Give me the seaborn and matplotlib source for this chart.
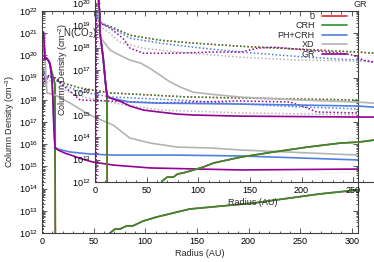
import numpy as np
import seaborn as sns
import matplotlib
matplotlib.use('Agg')
import matplotlib.pyplot as plt
from matplotlib.lines import Line2D
from matplotlib.ticker import LogLocator, NullFormatter, MultipleLocator, LogFormatterMathtext

# ---------------- data (log10 of column density) ----------------
# main panel, solid lines
m_gr_r = [0.3, 1.5, 2.9, 3.9, 5.8, 7.7, 9.7, 10.6, 11.6, 12.6, 15.5, 22, 28, 39, 49, 69, 105, 153, 192, 250, 306]
m_gr_n = [21.05, 21.05, 19.8, 19.9, 19.8, 19.66, 18.9, 18.0, 16.64, 15.83, 15.74, 15.6, 15.51, 15.33, 15.2, 15.06, 14.93, 14.88, 14.84, 14.86, 14.88]
m_crh_r = [0.3, 1.5, 2.9, 3.9, 5.8, 7.7, 9.7, 11.5, 12.5, 13.0, 64, 65.8, 70.7, 75.5, 82, 88, 98, 111, 127, 143, 205, 269, 306]
m_crh_n = [21.0, 21.0, 19.8, 19.9, 19.8, 19.6, 19.2, 18.9, 18.7, 10.0, 11.5, 12.0, 12.18, 12.18, 12.32, 12.32, 12.54, 12.72, 12.90, 13.08, 13.35, 13.76, 13.94]
m_ph_r = [0.3, 1.5, 2.9, 3.9, 5.8, 7.7, 9.7, 10.6, 11.6, 12.6, 15.5, 27, 46, 69, 129, 192, 250, 306]
m_ph_n = [21.0, 21.0, 19.8, 19.9, 19.8, 19.6, 18.9, 18.0, 16.7, 15.87, 15.78, 15.65, 15.56, 15.51, 15.51, 15.47, 15.38, 15.29]
m_xd_r = [0.3, 1.5, 2.9, 4.8, 12.6, 27, 46, 69, 85, 105, 131, 163, 192, 306]
m_xd_n = [21.0, 21.0, 19.8, 18.31, 18.22, 17.86, 17.32, 16.86, 16.28, 16.05, 15.87, 15.83, 15.74, 15.51]
# main panel, dotted lines
m_crh_d_r = [1.0, 1.2, 2, 3, 6.8, 12.6, 20, 37, 66, 140, 192, 306]
m_crh_d_n = [10.0, 19.4, 19.3, 18.9, 19.07, 18.98, 18.76, 18.53, 18.31, 18.13, 18.08, 17.99]
m_ph_d_r = [1.0, 1.2, 2, 3, 6.8, 20, 37, 66, 140, 192, 250, 306]
m_ph_d_n = [10.0, 19.4, 19.3, 18.9, 19.07, 18.67, 18.37, 18.13, 17.97, 17.81, 17.68, 17.59]
m_gr_d_r = [1.0, 1.2, 2, 3, 6.8, 12, 24, 37, 114, 192, 240, 257, 266, 306]
m_gr_d_n = [10.0, 19.2, 19.1, 18.8, 19.12, 19.0, 18.5, 17.99, 17.86, 17.95, 17.9, 17.63, 17.45, 17.41]
m_xd_d_r = [1.0, 1.2, 2, 3, 6.8, 17, 40, 75, 114, 192, 306]
m_xd_d_n = [10.0, 18.9, 18.8, 18.6, 18.89, 18.53, 18.13, 17.81, 17.54, 17.41, 17.32]

# inset, solid lines
i_gr_r = [0.3, 1.5, 3, 4.5, 4.9, 8, 10, 11.7, 14.6, 24, 34, 47, 63, 80, 95, 141, 255, 306]
i_gr_n = [21.0, 21.0, 20.5, 19.5, 18.64, 17.5, 16.5, 15.8, 15.75, 15.61, 15.39, 15.21, 15.12, 15.03, 14.99, 14.94, 14.90, 14.90]
i_crh_r = [0.3, 1.5, 3, 4.5, 4.9, 8, 10, 11.5, 12.0, 63, 65, 70, 76, 80, 85, 92, 105, 115, 124, 141, 173, 206, 238, 255, 270, 306]
i_crh_n = [21.0, 21.0, 20.5, 19.5, 18.64, 17.5, 16.5, 15.9, 10.0, 11.5, 12.04, 12.22, 12.22, 12.36, 12.40, 12.49, 12.67, 12.85, 12.94, 13.11, 13.34, 13.56, 13.74, 13.78, 13.87, 14.0]
i_ph_r = [0.3, 1.5, 3, 4.5, 4.9, 8, 10, 11.5, 14.6, 34, 63, 141, 255, 270, 306]
i_ph_n = [21.0, 21.0, 20.5, 19.5, 18.64, 17.5, 16.5, 15.9, 15.75, 15.57, 15.52, 15.48, 15.39, 15.34, 15.3]
i_xd_r = [0.3, 1.5, 3, 4.5, 5.8, 14.6, 24, 34, 44, 53, 63, 73, 83, 95, 112, 141, 199, 255, 270, 306]
i_xd_n = [21.0, 21.0, 20.0, 18.9, 18.42, 17.89, 17.66, 17.44, 17.31, 17.08, 16.77, 16.46, 16.23, 16.01, 15.92, 15.79, 15.66, 15.57, 15.52, 15.45]
# inset, dotted lines
i_crh_d_r = [1.0, 1.2, 2, 4.9, 16.5, 34, 63, 95, 141, 255, 270, 306]
i_crh_d_n = [10.0, 19.6, 19.3, 19.09, 18.91, 18.55, 18.33, 18.20, 18.06, 17.80, 17.75, 17.65]
i_ph_d_r = [1.0, 1.2, 2, 5.8, 16.5, 34, 63, 95, 141, 206, 255, 270, 306]
i_ph_d_n = [10.0, 19.6, 19.3, 19.13, 18.87, 18.42, 18.20, 18.02, 17.80, 17.57, 17.44, 17.35, 17.25]
i_gr_d_r = [1.0, 1.2, 2, 7.8, 14.6, 27, 34, 47, 80, 112, 141, 157, 173, 206, 238, 250, 260, 270, 306]
i_gr_d_n = [10.0, 19.3, 19.0, 19.04, 18.87, 18.42, 17.97, 17.75, 17.75, 17.80, 17.80, 17.97, 18.02, 17.89, 17.75, 17.66, 17.44, 17.35, 17.3]
i_xd_d_r = [1.0, 1.2, 2, 5.8, 14.6, 24, 47, 80, 141, 199, 255, 270, 306]
i_xd_d_n = [10.0, 19.0, 18.8, 18.91, 18.64, 18.24, 17.97, 17.80, 17.57, 17.44, 17.40, 17.35, 17.3]

labels = ['0', 'CRH', 'PH+CRH', 'XD', 'GR']
colors = ['#e3262b', '#2f8f2f', '#4f7fe0', '#b4b4b4', '#950095']

# model "0" coincides with CRH, so it is drawn from the same arrays (hidden underneath)
main_solid = [(m_crh_r, m_crh_n), (m_crh_r, m_crh_n), (m_ph_r, m_ph_n), (m_xd_r, m_xd_n), (m_gr_r, m_gr_n)]
main_dot = [(m_crh_d_r, m_crh_d_n), (m_crh_d_r, m_crh_d_n), (m_ph_d_r, m_ph_d_n), (m_xd_d_r, m_xd_d_n), (m_gr_d_r, m_gr_d_n)]
ins_solid = [(i_crh_r, i_crh_n), (i_crh_r, i_crh_n), (i_ph_r, i_ph_n), (i_xd_r, i_xd_n), (i_gr_r, i_gr_n)]
ins_dot = [(i_crh_d_r, i_crh_d_n), (i_crh_d_r, i_crh_d_n), (i_ph_d_r, i_ph_d_n), (i_xd_d_r, i_xd_d_n), (i_gr_d_r, i_gr_d_n)]

sns.set_style('ticks')
plt.rcParams['font.family'] = ['Liberation Sans', 'DejaVu Sans']
plt.rcParams['mathtext.default'] = 'regular'
FS = 6.5
EDGE = '#404040'
DOT = (0, (1, 1.4))

W, H = 374, 262
fig = plt.figure(figsize=(W / 100, H / 100), dpi=100)


def px_axes(l, b, r, t):
    return fig.add_axes([l / W, (H - b) / H, (r - l) / W, (b - t) / H])


ax = px_axes(42, 233, 358, 11)
axi = px_axes(95, 182, 411, -42)
axi.patch.set_alpha(0)


def draw(a, solid, dot):
    for (r, n), c in zip(dot, colors):
        sns.lineplot(x=r, y=10 ** np.array(n), ax=a, color=c, lw=1.1, linestyle=DOT,
                     sort=False, estimator=None)
    for (r, n), c in zip(solid, colors):
        sns.lineplot(x=r, y=10 ** np.array(n), ax=a, color=c, lw=1.2,
                     sort=False, estimator=None)


draw(ax, main_solid, main_dot)
draw(axi, ins_solid, ins_dot)

for a in (ax, axi):
    a.set_yscale('log')
    a.set_xlim(0, 306)
    a.set_ylim(1e12, 1e22)
    a.xaxis.set_major_locator(MultipleLocator(50))
    a.xaxis.set_minor_locator(MultipleLocator(10))
    a.yaxis.set_major_locator(LogLocator(base=10, numticks=20))
    a.yaxis.set_major_formatter(LogFormatterMathtext())
    a.yaxis.set_minor_locator(LogLocator(base=10, subs=np.arange(2, 10), numticks=20))
    a.yaxis.set_minor_formatter(NullFormatter())
    a.tick_params(which='both', direction='in', top=True, right=True, colors=EDGE,
                  labelcolor='black', labelsize=FS, width=0.6)
    a.tick_params(which='major', length=3.5, pad=3)
    a.tick_params(which='minor', length=1.8)
    for s in a.spines.values():
        s.set_color(EDGE)
        s.set_linewidth(0.8)
    a.set_xlabel('Radius (AU)', fontsize=FS, labelpad=2)

ax.set_ylabel('Column Density (cm$^{-3}$)', fontsize=FS, labelpad=1)
axi.set_ylabel('Column Density (cm$^{-2}$)', fontsize=FS, labelpad=1)
fig.text(63 / W, 1 - 33 / H, 'N(CO$_2$)', fontsize=FS + 0.5, va='center', ha='left')

handles_s = [Line2D([], [], color=c, lw=1.2) for c in colors]
handles_d = [Line2D([], [], color=c, lw=1.1, linestyle=DOT) for c in colors]
leg_kw = dict(frameon=False, fontsize=FS, markerfirst=False, handlelength=2.8,
              handletextpad=0.8, labelspacing=0.05, borderpad=0, borderaxespad=0,
              bbox_transform=fig.transFigure, loc='upper right')
ax.legend(handles_s, labels, bbox_to_anchor=(347 / W, 1 - 12 / H), **leg_kw)
axi.legend(handles_d, labels, bbox_to_anchor=(399 / W, 1 + 38 / H), **leg_kw)

fig.savefig('out.png', dpi=100)
